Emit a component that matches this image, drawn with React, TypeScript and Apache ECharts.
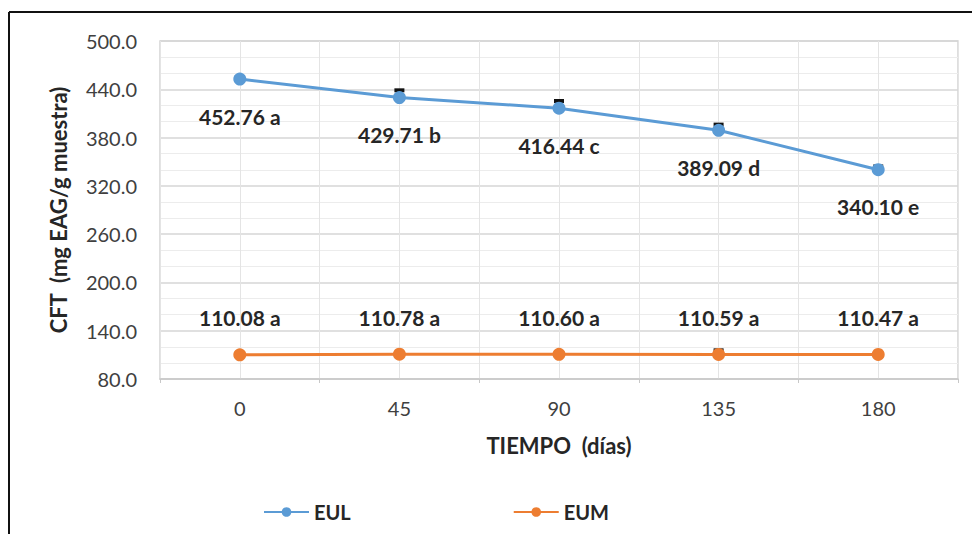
import React, { useEffect, useRef } from "react";
import * as echarts from "echarts";

const categories = ["0", "45", "90", "135", "180"];
const eulValues = [452.76, 429.71, 416.44, 389.09, 340.1];
const eumValues = [110.08, 110.78, 110.6, 110.59, 110.47];
const eulLetters = ["a", "b", "c", "d", "e"];
const eumLetters = ["a", "a", "a", "a", "a"];
const eulErrors = [2, 9, 9, 7, 4];
const eumErrors = [1, 1, 1, 5, 1];
const yTicks = { min: 80, max: 500, interval: 60 };

const FONT = "Lato";

export default function App() {
  const ref = useRef<HTMLDivElement>(null);
  useEffect(() => {
    if (!ref.current) return;
    const chart = echarts.init(ref.current, null, { renderer: "svg" });
    const errData = [
      ...eulValues.map((v, i) => [i, v, eulErrors[i]]),
      ...eumValues.map((v, i) => [i, v, eumErrors[i]]),
    ];
    chart.setOption({
      animation: false,
      backgroundColor: "#ffffff",
      textStyle: { fontFamily: FONT },
      grid: { left: 160, right: 14, top: 41, bottom: 155, show: true, borderColor: "#d4d4d4", borderWidth: 1.5 },
      legend: {
        data: ["EUL", "EUM"],
        left: 258,
        top: 497,
        itemWidth: 45,
        itemHeight: 12,
        itemGap: 162,
        textStyle: { fontFamily: FONT, fontWeight: "bold", fontSize: 20, color: "#262626" },
      },
      xAxis: [
        {
          type: "category",
          data: categories,
          boundaryGap: true,
          name: "TIEMPO  (días)",
          nameLocation: "middle",
          nameGap: 55,
          nameTextStyle: { fontFamily: FONT, fontWeight: "bold", fontSize: 22, color: "#262626" },
          axisLine: { lineStyle: { color: "#c8c8c8", width: 1.5 } },
          axisTick: { show: true, length: 4, lineStyle: { color: "#c8c8c8" } },
          axisLabel: { fontFamily: FONT, fontSize: 20, color: "#404040", margin: 19 },
          splitLine: { show: false },
        },
        {
          type: "value",
          min: 0,
          max: 10,
          interval: 1,
          position: "bottom",
          axisLine: { show: false },
          axisTick: { show: false },
          axisLabel: { show: false },
          splitLine: { show: true, lineStyle: { color: "#e4e4e4", width: 1 } },
        },
      ],
      yAxis: {
        type: "value",
        min: yTicks.min,
        max: yTicks.max,
        interval: yTicks.interval,
        name: "CFT  (mg EAG/g muestra)",
        nameLocation: "middle",
        nameGap: 91,
        nameTextStyle: { fontFamily: FONT, fontWeight: "bold", fontSize: 22, color: "#262626" },
        axisLine: { show: false },
        axisTick: { show: false },
        axisLabel: {
          fontFamily: FONT,
          fontSize: 20,
          color: "#404040",
          margin: 23,
          formatter: (v: number) => v.toFixed(1),
        },
        splitLine: { show: true, lineStyle: { color: "#d6d6d6", width: 1.5 } },
        minorTick: { show: false, splitNumber: 3 },
        minorSplitLine: { show: true, lineStyle: { color: "#ececec", width: 1 } },
      },
      series: [
        {
          type: "custom",
          name: "err",
          xAxisIndex: 0,
          z: 1,
          data: errData,
          encode: { x: 0, y: 1 },
          renderItem: (params: any, api: any) => {
            const i = api.value(0);
            const v = api.value(1);
            const e = api.value(2);
            const top = api.coord([i, v + e]);
            const base = api.coord([i, v]);
            return {
              type: "group",
              children: [
                { type: "line", shape: { x1: top[0], y1: top[1], x2: base[0], y2: base[1] }, style: { stroke: "#111", lineWidth: 1.5 } },
                { type: "rect", shape: { x: top[0] - 5, y: top[1] - 2, width: 10, height: 4 }, style: { fill: "#111" } },
              ],
            };
          },
        },
        {
          type: "line",
          name: "EUL",
          xAxisIndex: 0,
          z: 3,
          data: eulValues,
          symbol: "circle",
          symbolSize: 13,
          lineStyle: { color: "#5b9bd5", width: 3 },
          itemStyle: { color: "#5b9bd5" },
          label: {
            show: true,
            position: "bottom",
            distance: 20,
            fontFamily: FONT,
            fontWeight: "bold",
            fontSize: 21,
            color: "#262626",
            formatter: (p: any) => `${eulValues[p.dataIndex].toFixed(2)} ${eulLetters[p.dataIndex]}`,
          },
        },
        {
          type: "line",
          name: "EUM",
          xAxisIndex: 0,
          z: 3,
          data: eumValues,
          symbol: "circle",
          symbolSize: 13,
          lineStyle: { color: "#ed7d31", width: 3 },
          itemStyle: { color: "#ed7d31" },
          label: {
            show: true,
            position: "top",
            distance: 20,
            fontFamily: FONT,
            fontWeight: "bold",
            fontSize: 21,
            color: "#262626",
            formatter: (p: any) => `${eumValues[p.dataIndex].toFixed(2)} ${eumLetters[p.dataIndex]}`,
          },
        },
      ],
      graphic: [
        { type: "line", shape: { x1: 9, y1: 12, x2: 972, y2: 12 }, style: { stroke: "#111", lineWidth: 2 } },
        { type: "line", shape: { x1: 9, y1: 12, x2: 9, y2: 534 }, style: { stroke: "#111", lineWidth: 2 } },
      ],
    });
    return () => chart.dispose();
  }, []);
  return <div ref={ref} style={{ position: "fixed", left: 0, top: 0, width: 972, height: 534 }} />;
}
